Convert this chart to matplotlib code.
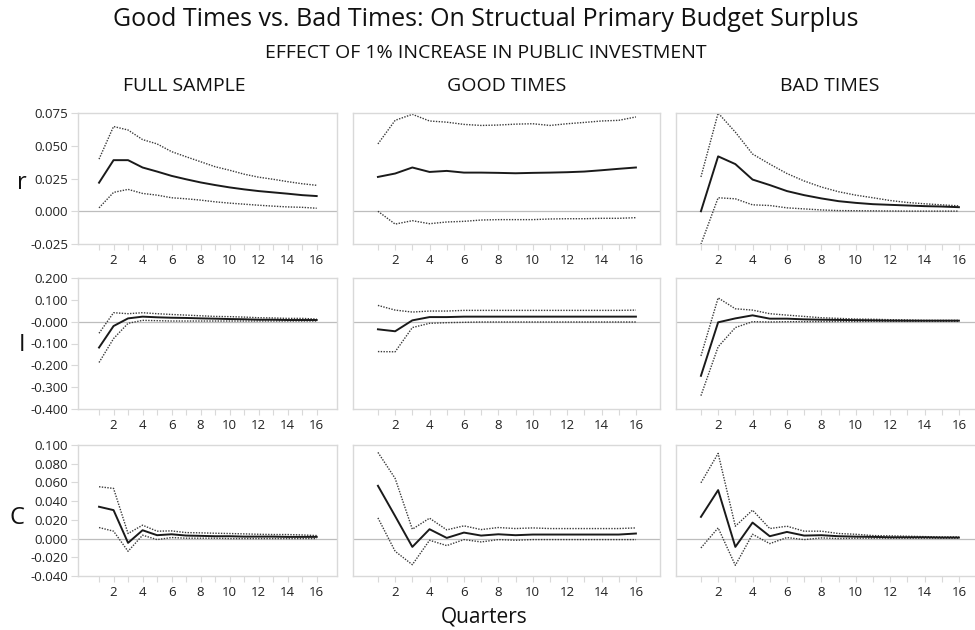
import matplotlib
matplotlib.use("Agg")
import matplotlib.pyplot as plt

plt.rcParams['font.family'] = ['Open Sans', 'DejaVu Sans']

quarters = list(range(1, 17))

# row r
r_full_mid = [0.0218, 0.0390, 0.0390, 0.0334, 0.0303, 0.0270, 0.0244, 0.0220, 0.0200, 0.0182, 0.0167, 0.0154, 0.0144, 0.0134, 0.0123, 0.0116]
r_full_up = [0.0398, 0.0647, 0.0620, 0.0547, 0.0514, 0.0455, 0.0416, 0.0378, 0.0340, 0.0313, 0.0283, 0.0260, 0.0244, 0.0226, 0.0210, 0.0198]
r_full_lo = [0.0026, 0.0144, 0.0167, 0.0136, 0.0123, 0.0103, 0.0095, 0.0085, 0.0072, 0.0062, 0.0054, 0.0046, 0.0039, 0.0033, 0.0030, 0.0023]
r_good_mid = [0.0262, 0.0288, 0.0334, 0.0300, 0.0308, 0.0295, 0.0295, 0.0293, 0.0290, 0.0293, 0.0295, 0.0298, 0.0303, 0.0313, 0.0324, 0.0334]
r_good_up = [0.0514, 0.0694, 0.0740, 0.0689, 0.0680, 0.0663, 0.0655, 0.0658, 0.0665, 0.0668, 0.0655, 0.0668, 0.0678, 0.0689, 0.0694, 0.0720]
r_good_lo = [0.0000, -0.0098, -0.0072, -0.0095, -0.0082, -0.0077, -0.0067, -0.0064, -0.0064, -0.0064, -0.0059, -0.0057, -0.0057, -0.0054, -0.0054, -0.0049]
r_bad_mid = [0.0000, 0.0419, 0.0360, 0.0242, 0.0200, 0.0154, 0.0123, 0.0098, 0.0077, 0.0064, 0.0054, 0.0049, 0.0044, 0.0039, 0.0036, 0.0031]
r_bad_up = [0.0262, 0.0750, 0.0604, 0.0437, 0.0360, 0.0288, 0.0231, 0.0185, 0.0149, 0.0123, 0.0103, 0.0082, 0.0067, 0.0057, 0.0049, 0.0041]
r_bad_lo = [-0.0252, 0.0103, 0.0095, 0.0049, 0.0044, 0.0026, 0.0018, 0.0010, 0.0005, 0.0004, 0.0003, 0.0002, 0.0001, 0.0001, 0.0001, 0.0001]

# row I
i_full_mid = [-0.1185, -0.020, 0.015, 0.023, 0.020, 0.018, 0.017, 0.015, 0.0137, 0.012, 0.011, 0.009, 0.009, 0.0076, 0.0076, 0.0076]
i_full_up = [-0.053, 0.041, 0.0365, 0.041, 0.0365, 0.033, 0.030, 0.027, 0.024, 0.023, 0.021, 0.018, 0.017, 0.015, 0.015, 0.012]
i_full_lo = [-0.187, -0.0775, -0.0076, 0.006, 0.0046, 0.003, 0.003, 0.003, 0.003, 0.003, 0.003, 0.003, 0.003, 0.003, 0.003, 0.003]
i_good_mid = [-0.035, -0.044, 0.006, 0.021, 0.021, 0.023, 0.023, 0.023, 0.023, 0.023, 0.023, 0.023, 0.023, 0.023, 0.023, 0.023]
i_good_up = [0.0745, 0.053, 0.044, 0.0486, 0.0486, 0.0517, 0.0517, 0.0517, 0.0517, 0.0517, 0.0517, 0.0517, 0.0517, 0.0517, 0.0517, 0.053]
i_good_lo = [-0.137, -0.138, -0.027, -0.0076, -0.0046, -0.003, -0.0015, -0.0015, -0.0015, -0.0015, -0.0015, -0.0015, -0.0015, -0.0015, -0.0015, -0.0015]
i_bad_mid = [-0.248, -0.003, 0.015, 0.029, 0.0137, 0.0137, 0.0106, 0.009, 0.008, 0.007, 0.006, 0.005, 0.0046, 0.0046, 0.0046, 0.0046]
i_bad_up = [-0.157, 0.109, 0.059, 0.053, 0.0365, 0.030, 0.024, 0.018, 0.015, 0.012, 0.011, 0.009, 0.008, 0.006, 0.006, 0.006]
i_bad_lo = [-0.339, -0.115, -0.027, 0.000, -0.0015, 0.000, 0.000, 0.0005, 0.001, 0.001, 0.0015, 0.0015, 0.0015, 0.0015, 0.0015, 0.0015]

# row C
c_full_mid = [0.0340, 0.0304, -0.0046, 0.0089, 0.0036, 0.0046, 0.0032, 0.0029, 0.0025, 0.0025, 0.0021, 0.0021, 0.0021, 0.0018, 0.0018, 0.0018]
c_full_up = [0.0554, 0.0536, 0.0054, 0.0143, 0.0079, 0.0082, 0.0064, 0.0061, 0.0057, 0.0054, 0.0050, 0.0046, 0.0043, 0.0043, 0.0039, 0.0032]
c_full_lo = [0.0118, 0.0079, -0.0136, 0.0036, -0.0011, 0.0011, 0.0004, 0.0004, 0.0004, 0.0000, 0.0000, 0.0000, 0.0000, 0.0000, 0.0000, 0.0000]
c_good_mid = [0.0564, 0.0240, -0.0089, 0.0100, 0.0007, 0.0064, 0.0032, 0.0046, 0.0036, 0.0043, 0.0043, 0.0043, 0.0043, 0.0043, 0.0043, 0.0054]
c_good_up = [0.0921, 0.0643, 0.0100, 0.0218, 0.0093, 0.0136, 0.0096, 0.0118, 0.0107, 0.0114, 0.0107, 0.0107, 0.0107, 0.0107, 0.0107, 0.0114]
c_good_lo = [0.0221, -0.0136, -0.0279, -0.0018, -0.0075, -0.0011, -0.0036, -0.0011, -0.0018, -0.0011, -0.0011, -0.0011, -0.0011, -0.0011, -0.0011, -0.0011]
c_bad_mid = [0.0232, 0.0518, -0.0089, 0.0171, 0.0025, 0.0071, 0.0032, 0.0036, 0.0025, 0.0021, 0.0018, 0.0014, 0.0014, 0.0014, 0.0011, 0.0011]
c_bad_up = [0.0596, 0.0910, 0.0132, 0.0304, 0.0107, 0.0132, 0.0079, 0.0079, 0.0054, 0.0046, 0.0032, 0.0029, 0.0025, 0.0021, 0.0018, 0.0018]
c_bad_lo = [-0.0100, 0.0114, -0.0286, 0.0046, -0.0054, 0.0011, -0.0011, 0.0007, 0.0000, 0.0004, 0.0004, 0.0004, 0.0004, 0.0004, 0.0004, 0.0004]

col_titles = ['FULL SAMPLE', 'GOOD TIMES', 'BAD TIMES']
row_names = ['r', 'I', 'C']
row_ticks = [
    [-0.025, 0.0, 0.025, 0.05, 0.075],
    [-0.4, -0.3, -0.2, -0.1, 0.0, 0.1, 0.2],
    [-0.04, -0.02, 0.0, 0.02, 0.04, 0.06, 0.08, 0.1],
]
row_tick_labels = [
    ['-0.025', '0.000', '0.025', '0.050', '0.075'],
    ['-0.400', '-0.300', '-0.200', '-0.100', '-0.000', '0.100', '0.200'],
    ['-0.040', '-0.020', '0.000', '0.020', '0.040', '0.060', '0.080', '0.100'],
]

series = [
    [(r_full_mid, r_full_up, r_full_lo), (r_good_mid, r_good_up, r_good_lo), (r_bad_mid, r_bad_up, r_bad_lo)],
    [(i_full_mid, i_full_up, i_full_lo), (i_good_mid, i_good_up, i_good_lo), (i_bad_mid, i_bad_up, i_bad_lo)],
    [(c_full_mid, c_full_up, c_full_lo), (c_good_mid, c_good_up, c_good_lo), (c_bad_mid, c_bad_up, c_bad_lo)],
]

W, H = 975, 630
fig = plt.figure(figsize=(9.75, 6.3), dpi=100)

# panel boxes in pixels (left, right) and (top, bottom)
col_px = [(78, 337), (353, 660), (676, 983)]
row_px = [(113, 244), (278, 409), (445, 576)]

box_color = '#d9d9d9'
for ri in range(3):
    top, bot = row_px[ri]
    for ci in range(3):
        left, right = col_px[ci]
        ax = fig.add_axes([left / W, 1 - bot / H, (right - left) / W, (bot - top) / H])
        mid, up, lo = series[ri][ci]
        ax.axhline(0, color='#bdbdbd', lw=0.9, zorder=1)
        ax.plot(quarters, up, color='#3a3a3a', lw=1.0, ls=(0, (1, 1)), zorder=2)
        ax.plot(quarters, lo, color='#3a3a3a', lw=1.0, ls=(0, (1, 1)), zorder=2)
        ax.plot(quarters, mid, color='#1a1a1a', lw=1.4, zorder=3)
        ax.set_xlim(-0.45, 17.4)
        ax.set_ylim(row_ticks[ri][0], row_ticks[ri][-1])
        ax.set_xticks(quarters)
        ax.set_xticklabels([str(q) if q % 2 == 0 else '' for q in quarters], fontsize=9.5)
        ax.tick_params(axis='x', direction='out', length=4, color=box_color, pad=3, labelcolor='#222222')
        if ci == 0:
            ax.set_yticks(row_ticks[ri])
            ax.set_yticklabels(row_tick_labels[ri], fontsize=9.5)
            ax.tick_params(axis='y', direction='out', length=5, color=box_color, pad=2, labelcolor='#222222')
        else:
            ax.set_yticks([])
        for sp in ax.spines.values():
            sp.set_color(box_color)
            sp.set_linewidth(1.0)

fig.text(486 / W, 1 - 20 / H, 'Good Times vs. Bad Times: On Structual Primary Budget Surplus',
         ha='center', va='center', fontsize=18, color='#111111')
fig.text(486 / W, 1 - 53 / H, 'EFFECT OF 1% INCREASE IN PUBLIC INVESTMENT',
         ha='center', va='center', fontsize=14, color='#111111')
for x, t in zip([184, 507, 830], col_titles):
    fig.text(x / W, 1 - 86 / H, t, ha='center', va='center', fontsize=14, color='#111111')
for (x, y), t in zip([(22, 183), (22, 345), (17, 518)], row_names):
    fig.text(x / W, 1 - y / H, t, ha='center', va='center', fontsize=17, color='#111111')
fig.text(484 / W, 1 - 617 / H, 'Quarters', ha='center', va='center', fontsize=15, color='#111111')

fig.savefig('out.png', dpi=100, facecolor='white')
